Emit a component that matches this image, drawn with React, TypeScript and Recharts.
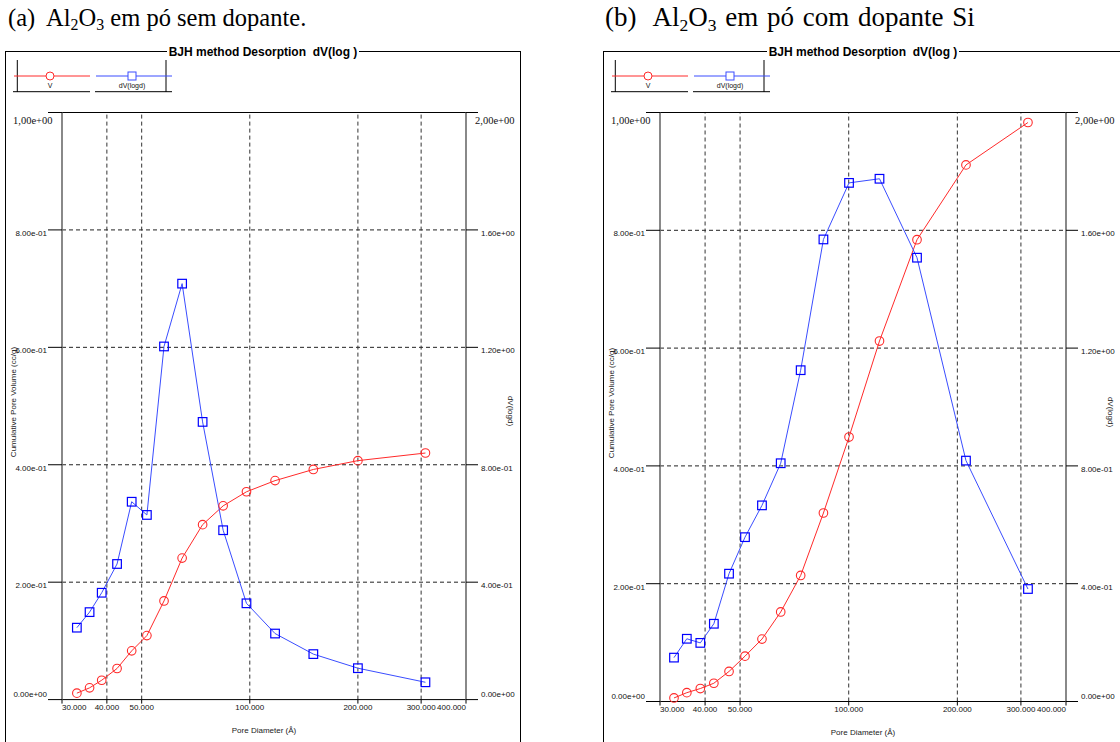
import React from 'react';
import { LineChart, Line, XAxis, YAxis, ReferenceLine, Legend } from 'recharts';

// (a) sem dopante
const poreA = [33.0, 35.8, 38.7, 42.7, 46.9, 51.7, 57.7, 64.8, 73.9, 84.3, 97.9, 117.6, 150.3, 200.0, 308.4];
const volA = [0.011, 0.020, 0.033, 0.053, 0.083, 0.109, 0.168, 0.241, 0.298, 0.330, 0.354, 0.373, 0.392, 0.407, 0.420];
const dvA = [0.245, 0.298, 0.364, 0.462, 0.674, 0.629, 1.203, 1.417, 0.946, 0.577, 0.328, 0.225, 0.155, 0.107, 0.059];

// (b) com dopante Si
const poreB = [32.8, 35.6, 38.8, 42.3, 46.6, 51.6, 57.5, 64.8, 73.6, 85.1, 100.2, 121.7, 154.6, 211.3, 313.8];
const volB = [0.006, 0.015, 0.022, 0.031, 0.051, 0.077, 0.106, 0.152, 0.214, 0.320, 0.449, 0.612, 0.784, 0.911, 0.983];
const dvB = [0.149, 0.213, 0.199, 0.264, 0.434, 0.558, 0.666, 0.809, 1.125, 1.569, 1.761, 1.775, 1.507, 0.818, 0.382];

const leftTicks = [0, 0.2, 0.4, 0.6, 0.8, 1];
const rightTicks = [0, 0.4, 0.8, 1.2, 1.6, 2];
const xTicks = [30, 40, 50, 100, 200, 300, 400];
const xGrid = [40, 50, 100, 200, 300];
const yGrid = [0.2, 0.4, 0.6, 0.8];

const SANS = '"Liberation Sans", Arial, sans-serif';
const SERIF = '"Liberation Serif", "Times New Roman", serif';

function sci(v: number, comma = false) {
  const [m, e] = v.toExponential(2).split('e');
  const n = Number(e);
  const s = `${m}e${n < 0 ? '-' : '+'}${String(Math.abs(n)).padStart(2, '0')}`;
  return comma ? s.replace('.', ',') : s;
}

const XTick = (props: any) => {
  const { x, y, payload } = props;
  const v = payload.value;
  const anchor = v === xTicks[0] ? 'start' : v === xTicks[xTicks.length - 1] ? 'end' : 'middle';
  return (
    <text x={x} y={y + 4} textAnchor={anchor} dominantBaseline="central" fontFamily={SANS} fontSize={8} fill="#111">
      {v.toFixed(3)}
    </text>
  );
};

const YTick = (props: any) => {
  const { x, y, payload, side } = props;
  const v = payload.value;
  const ticks = side === 'left' ? leftTicks : rightTicks;
  if (v === ticks[ticks.length - 1]) {
    return (
      <text x={side === 'left' ? x - 34 : x - 6} y={y + 7.5} textAnchor="start" dominantBaseline="central"
        fontFamily={SERIF} fontSize={10.5} fill="#111">
        {sci(v, true)}
      </text>
    );
  }
  const dy = v === 0 ? -5 : 3.5;
  return (
    <text x={x} y={y + dy} textAnchor={side === 'left' ? 'end' : 'start'} dominantBaseline="central"
      fontFamily={SANS} fontSize={8} fill="#111">
      {sci(v)}
    </text>
  );
};

const Circle = (props: any) => {
  const { cx, cy } = props;
  if (cx == null || cy == null) return null;
  return <circle cx={cx} cy={cy} r={4.3} fill="none" stroke="#ff2a2a" strokeWidth={1.1} />;
};

const Square = (props: any) => {
  const { cx, cy } = props;
  if (cx == null || cy == null) return null;
  return <rect x={cx - 4.3} y={cy - 4.3} width={8.6} height={8.6} fill="none" stroke="#0000ff" strokeWidth={1.2} />;
};

const renderLegend = (props: any) => {
  const items = props.payload || [];
  return (
    <svg width={162} height={34} style={{ display: 'block' }}>
      <line x1={4.3} y1={0} x2={4.3} y2={32} stroke="#000" />
      <line x1={153} y1={0} x2={153} y2={32} stroke="#000" />
      {items.map((p: any, i: number) => {
        const x0 = i * 82;
        const cx = 37 + i * 82;
        const isV = p.dataKey === 'v';
        return (
          <g key={i}>
            <line x1={x0 + 1} x2={x0 + 77} y1={16} y2={16} stroke={p.color} />
            {isV ? (
              <circle cx={cx} cy={16} r={4} fill="#fff" stroke={p.color} />
            ) : (
              <rect x={cx - 4} y={12} width={8} height={8} fill="#fff" stroke={p.color} />
            )}
            <text x={cx} y={25.5} textAnchor="middle" dominantBaseline="central" fontSize={7} fontFamily={SANS} fill="#111">
              {p.value}
            </text>
            <line x1={x0} x2={x0 + 77} y1={31.7} y2={31.7} stroke="#000" />
          </g>
        );
      })}
    </svg>
  );
};

type PanelProps = {
  pore: number[];
  vol: number[];
  dv: number[];
  chartLeft: number;
  width: number;
  frameLeft: number;
  frameWidth: number;
  plotTop: number;
  plotBottom: number;
  rightAxisW: number;
  label: string;
  caption: string;
  captionLeft: number;
  captionTop: number;
  captionSize: number;
  wordSpacing: number;
};

const abs = (s: React.CSSProperties): React.CSSProperties => ({ position: 'absolute', ...s });

function Panel(p: PanelProps) {
  const data = p.pore.map((d, i) => ({ d, v: p.vol[i], dv: p.dv[i] }));
  const H = 742;
  const plotLeft = p.chartLeft + 62;
  const plotRight = p.chartLeft + p.width - p.rightAxisW;
  const midY = (p.plotTop + p.plotBottom) / 2;
  const lblStyle: React.CSSProperties = {
    width: 200, height: 10, lineHeight: '10px', textAlign: 'center', fontFamily: SANS, fontSize: 8, color: '#222',
    whiteSpace: 'nowrap',
  };
  const sub: React.CSSProperties = { fontSize: p.captionSize * 0.65, verticalAlign: -p.captionSize * 0.17 };
  return (
    <>
      <div style={abs({ left: p.captionLeft, top: p.captionTop, fontFamily: SERIF, fontSize: p.captionSize, lineHeight: '28px', whiteSpace: 'pre', color: '#000', wordSpacing: p.wordSpacing })}>
        {p.label}{'  '}Al<span style={sub}>2</span>O<span style={sub}>3</span>{p.caption}
      </div>
      <div style={abs({ left: p.frameLeft, top: 50.5, width: p.frameWidth, height: 760, border: '1px solid #000', boxSizing: 'border-box' })} />
      <div style={abs({ left: p.frameLeft, top: 44, width: p.frameWidth, textAlign: 'center', lineHeight: '14px' })}>
        <span style={{ background: '#fff', padding: '0 2px', fontFamily: SANS, fontWeight: 'bold', fontSize: 12, whiteSpace: 'pre', color: '#000' }}>
          BJH method Desorption  dV(log )
        </span>
      </div>
      <div style={abs({ left: p.chartLeft, top: 0 })}>
        <LineChart width={p.width} height={H} data={data} margin={{ top: p.plotTop, right: 0, bottom: 0, left: 0 }}>
          {yGrid.map((g) => (
            <ReferenceLine key={'h' + g} yAxisId="left" y={g} stroke="#222" strokeDasharray="4 3" />
          ))}
          {xGrid.map((g) => (
            <ReferenceLine key={'v' + g} yAxisId="left" x={g} stroke="#333" strokeDasharray="4 3" />
          ))}
          <ReferenceLine yAxisId="left" y={1} stroke="#000" />
          <XAxis
            dataKey="d"
            type="number"
            scale="log"
            domain={[30, 400]}
            allowDataOverflow
            ticks={xTicks}
            interval={0}
            height={H - p.plotBottom}
            tickSize={4}
            tickMargin={0}
            axisLine={{ stroke: '#000' }}
            tickLine={{ stroke: '#000' }}
            tick={<XTick />}
          />
          <YAxis
            yAxisId="left"
            orientation="left"
            type="number"
            domain={[0, 1]}
            ticks={leftTicks}
            interval={0}
            width={62}
            tickSize={14}
            tickMargin={1}
            axisLine={{ stroke: '#6b6b6b', strokeWidth: 1.6 }}
            tickLine={{ stroke: '#000' }}
            tick={<YTick side="left" />}
          />
          <YAxis
            yAxisId="right"
            orientation="right"
            type="number"
            domain={[0, 2]}
            ticks={rightTicks}
            interval={0}
            width={p.rightAxisW}
            tickSize={12}
            tickMargin={3}
            axisLine={{ stroke: '#6b6b6b', strokeWidth: 1.6 }}
            tickLine={{ stroke: '#000' }}
            tick={<YTick side="right" />}
          />
          <Line yAxisId="left" dataKey="v" name="V" stroke="#ff2a2a" strokeWidth={1} dot={<Circle />}
            activeDot={false} isAnimationActive={false} />
          <Line yAxisId="right" dataKey="dv" name="dV(logd)" stroke="#3a4dff" strokeWidth={1} dot={<Square />}
            activeDot={false} isAnimationActive={false} />
          <Legend
            content={renderLegend}
            layout="horizontal"
            verticalAlign="middle"
            align="center"
            wrapperStyle={{ left: p.frameLeft + 8 - p.chartLeft, top: 60, width: 162, height: 34 }}
          />
        </LineChart>
      </div>
      <div style={abs({ ...lblStyle, left: plotLeft - 48 - 100, top: midY - 4 - 5, transform: 'rotate(-90deg)' })}>
        Cumulative Pore Volume (cc/g)
      </div>
      <div style={abs({ ...lblStyle, left: plotRight + 44 - 100, top: midY + 5 - 5, transform: 'rotate(90deg)' })}>
        dV(logd)
      </div>
      <div style={abs({ ...lblStyle, left: (plotLeft + plotRight) / 2 - 100, top: p.plotBottom + 31.5 - 5 })}>
        Pore Diameter (Å)
      </div>
    </>
  );
}

export default function App() {
  return (
    <div style={{ position: 'fixed', left: 0, top: 0, width: 1120, height: 742, background: '#fff', overflow: 'hidden' }}>
      <Panel pore={poreA} vol={volA} dv={dvA} chartLeft={0} width={560} frameLeft={5} frameWidth={516}
        plotTop={112.5} plotBottom={699.6} rightAxisW={94} label="(a)" caption=" em pó sem dopante." captionLeft={8}
        captionTop={4} captionSize={24.5} wordSpacing={0} />
      <Panel pore={poreB} vol={volB} dv={dvB} chartLeft={598} width={522} frameLeft={603} frameWidth={520}
        plotTop={112.5} plotBottom={701.5} rightAxisW={54} label="(b)" caption=" em pó com dopante Si" captionLeft={605}
        captionTop={3} captionSize={27} wordSpacing={2} />
    </div>
  );
}
